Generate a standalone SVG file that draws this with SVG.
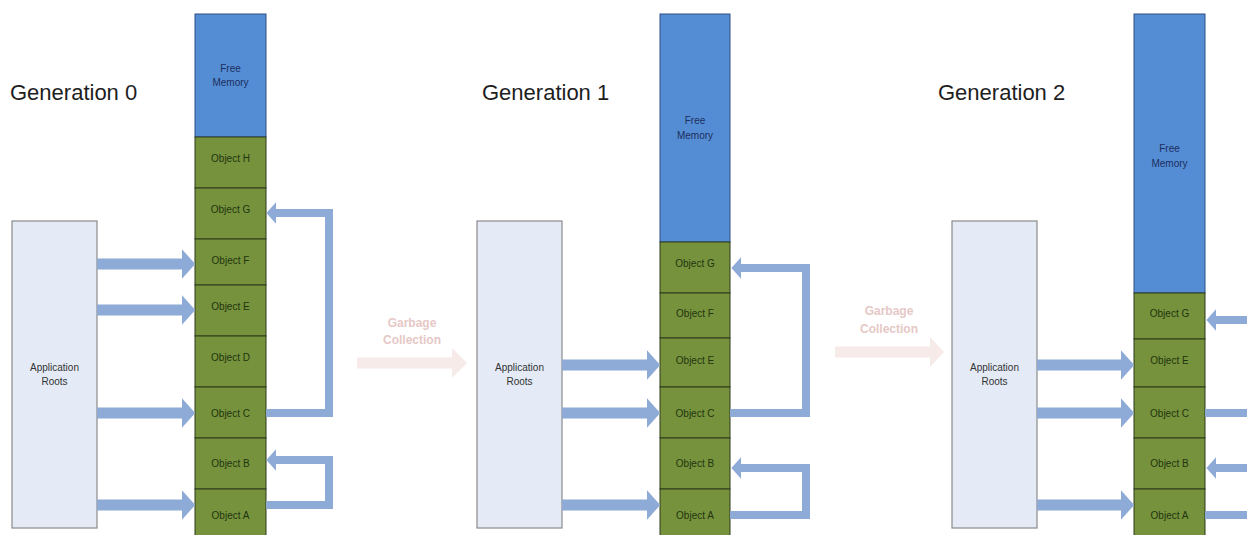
<svg xmlns="http://www.w3.org/2000/svg" width="1247" height="535" viewBox="0 0 1247 535">
  <defs>
    <style>
      .title { font-family: "Liberation Sans", Arial, sans-serif; font-size: 22px; fill: #1e1e1e; }
      .free { fill: #548dd4; stroke: #2e4f86; stroke-width: 1; }
      .cell { fill: #76923c; stroke: #2f3b1c; stroke-width: 1; }
      .roots { fill: #e4ebf6; stroke: #8a8a8a; stroke-width: 1.2; }
      .lbl { font-family: "Liberation Sans", Arial, sans-serif; font-size: 10px; text-anchor: middle; dominant-baseline: central; }
      .cell-t { fill: #1f3510; }
      .free-t { fill: #1c2f5e; }
      .roots-t { fill: #333333; }
      .gc-t { font-family: "Liberation Sans", Arial, sans-serif; font-size: 12px; font-weight: bold; fill: #e6c8c6; text-anchor: middle; }
      .gc { fill: #f6ebe8; }
      .ref { fill: none; stroke: #8eaad6; stroke-linejoin: miter; stroke-linecap: butt; marker-end: url(#head); }
      .root-ref { stroke-width: 11; }
      .obj-ref { stroke-width: 8; }
      .tail { fill: none; stroke: #8eaad6; stroke-width: 8; }
    </style>
    <marker id="head" viewBox="0 0 12 27" refX="0" refY="13.5" markerWidth="1.2" markerHeight="2.7" markerUnits="strokeWidth" orient="auto">
      <path d="M0,0 L12,13.5 L0,27 Z" fill="#8eaad6"/>
    </marker>
  </defs>

  <rect width="1247" height="535" fill="#ffffff"/>

  <!-- titles -->
  <text class="title" x="10" y="100">Generation 0</text>
  <text class="title" x="482" y="100">Generation 1</text>
  <text class="title" x="938" y="100">Generation 2</text>

  <!-- garbage collection steps -->
  <g id="gc-step-1">
    <polygon class="gc" points="357,357.5 452,357.5 452,348 467,363 452,378 452,368.5 357,368.5"/>
    <text class="gc-t" x="412" y="327">Garbage</text>
    <text class="gc-t" x="412" y="344">Collection</text>
  </g>
  <g id="gc-step-2">
    <polygon class="gc" points="835,346.5 930,346.5 930,337 944,352 930,367 930,357.5 835,357.5"/>
    <text class="gc-t" x="889" y="315">Garbage</text>
    <text class="gc-t" x="889" y="333">Collection</text>
  </g>

  <!-- generation 0 -->
  <g id="gen0-roots">
    <rect class="roots" x="12" y="221" width="85" height="307"/>
    <text class="lbl roots-t" x="54.5" y="367">Application</text>
    <text class="lbl roots-t" x="54.5" y="381">Roots</text>
  </g>
  <g id="gen0-free">
    <rect class="free" x="195" y="14" width="71" height="123"/>
    <text class="lbl free-t" x="230.5" y="68">Free</text>
    <text class="lbl free-t" x="230.5" y="82">Memory</text>
  </g>
  <g id="gen0-obj-h"><rect class="cell" x="195" y="137" width="71" height="51"/><text class="lbl cell-t" x="230.5" y="158">Object H</text></g>
  <g id="gen0-obj-g"><rect class="cell" x="195" y="188" width="71" height="51"/><text class="lbl cell-t" x="230.5" y="209">Object G</text></g>
  <g id="gen0-obj-f"><rect class="cell" x="195" y="239" width="71" height="46"/><text class="lbl cell-t" x="230.5" y="260">Object F</text></g>
  <g id="gen0-obj-e"><rect class="cell" x="195" y="285" width="71" height="51"/><text class="lbl cell-t" x="230.5" y="306">Object E</text></g>
  <g id="gen0-obj-d"><rect class="cell" x="195" y="336" width="71" height="51"/><text class="lbl cell-t" x="230.5" y="357">Object D</text></g>
  <g id="gen0-obj-c"><rect class="cell" x="195" y="387" width="71" height="51"/><text class="lbl cell-t" x="230.5" y="413">Object C</text></g>
  <g id="gen0-obj-b"><rect class="cell" x="195" y="438" width="71" height="51"/><text class="lbl cell-t" x="230.5" y="463">Object B</text></g>
  <g id="gen0-obj-a"><rect class="cell" x="195" y="489" width="71" height="60"/><text class="lbl cell-t" x="230.5" y="515">Object A</text></g>

  <!-- generation 1 -->
  <g id="gen1-roots">
    <rect class="roots" x="477" y="221" width="85" height="307"/>
    <text class="lbl roots-t" x="519.5" y="367">Application</text>
    <text class="lbl roots-t" x="519.5" y="381">Roots</text>
  </g>
  <g id="gen1-free">
    <rect class="free" x="660" y="14" width="70" height="228"/>
    <text class="lbl free-t" x="695" y="120">Free</text>
    <text class="lbl free-t" x="695" y="135">Memory</text>
  </g>
  <g id="gen1-obj-g"><rect class="cell" x="660" y="242" width="70" height="51"/><text class="lbl cell-t" x="695" y="263">Object G</text></g>
  <g id="gen1-obj-f"><rect class="cell" x="660" y="293" width="70" height="45"/><text class="lbl cell-t" x="695" y="313">Object F</text></g>
  <g id="gen1-obj-e"><rect class="cell" x="660" y="338" width="70" height="49"/><text class="lbl cell-t" x="695" y="360">Object E</text></g>
  <g id="gen1-obj-c"><rect class="cell" x="660" y="387" width="70" height="51"/><text class="lbl cell-t" x="695" y="413">Object C</text></g>
  <g id="gen1-obj-b"><rect class="cell" x="660" y="438" width="70" height="51"/><text class="lbl cell-t" x="695" y="463">Object B</text></g>
  <g id="gen1-obj-a"><rect class="cell" x="660" y="489" width="70" height="60"/><text class="lbl cell-t" x="695" y="515">Object A</text></g>

  <!-- generation 2 -->
  <g id="gen2-roots">
    <rect class="roots" x="952" y="221" width="85" height="307"/>
    <text class="lbl roots-t" x="994.5" y="367">Application</text>
    <text class="lbl roots-t" x="994.5" y="381">Roots</text>
  </g>
  <g id="gen2-free">
    <rect class="free" x="1134" y="14" width="71" height="279"/>
    <text class="lbl free-t" x="1169.5" y="148">Free</text>
    <text class="lbl free-t" x="1169.5" y="163">Memory</text>
  </g>
  <g id="gen2-obj-g"><rect class="cell" x="1134" y="293" width="71" height="46"/><text class="lbl cell-t" x="1169.5" y="313">Object G</text></g>
  <g id="gen2-obj-e"><rect class="cell" x="1134" y="339" width="71" height="48"/><text class="lbl cell-t" x="1169.5" y="360">Object E</text></g>
  <g id="gen2-obj-c"><rect class="cell" x="1134" y="387" width="71" height="51"/><text class="lbl cell-t" x="1169.5" y="413">Object C</text></g>
  <g id="gen2-obj-b"><rect class="cell" x="1134" y="438" width="71" height="51"/><text class="lbl cell-t" x="1169.5" y="463">Object B</text></g>
  <g id="gen2-obj-a"><rect class="cell" x="1134" y="489" width="71" height="60"/><text class="lbl cell-t" x="1169.5" y="515">Object A</text></g>

  <!-- references -->
  <g id="connectors">
    <!-- generation 0 -->
    <path class="ref root-ref" d="M97,264 H182"/>
    <path class="ref root-ref" d="M97,310 H182"/>
    <path class="ref root-ref" d="M97,413 H182"/>
    <path class="ref root-ref" d="M97,505 H182"/>
    <path class="ref obj-ref" d="M266,413 H329 V213 H276"/>
    <path class="ref obj-ref" d="M266,505 H329 V460 H276"/>
    <!-- generation 1 -->
    <path class="ref root-ref" d="M562,365 H647"/>
    <path class="ref root-ref" d="M562,413 H647"/>
    <path class="ref root-ref" d="M562,505 H647"/>
    <path class="ref obj-ref" d="M730,413 H806 V268 H741"/>
    <path class="ref obj-ref" d="M730,515 H806 V468 H741"/>
    <!-- generation 2 -->
    <path class="ref root-ref" d="M1037,365 H1121"/>
    <path class="ref root-ref" d="M1037,413 H1121"/>
    <path class="ref root-ref" d="M1037,505 H1121"/>
    <path class="ref obj-ref" d="M1260,320 H1216"/>
    <path class="tail" d="M1205,413 H1260"/>
    <path class="ref obj-ref" d="M1260,468 H1216"/>
    <path class="tail" d="M1205,515 H1260"/>
  </g>
</svg>
